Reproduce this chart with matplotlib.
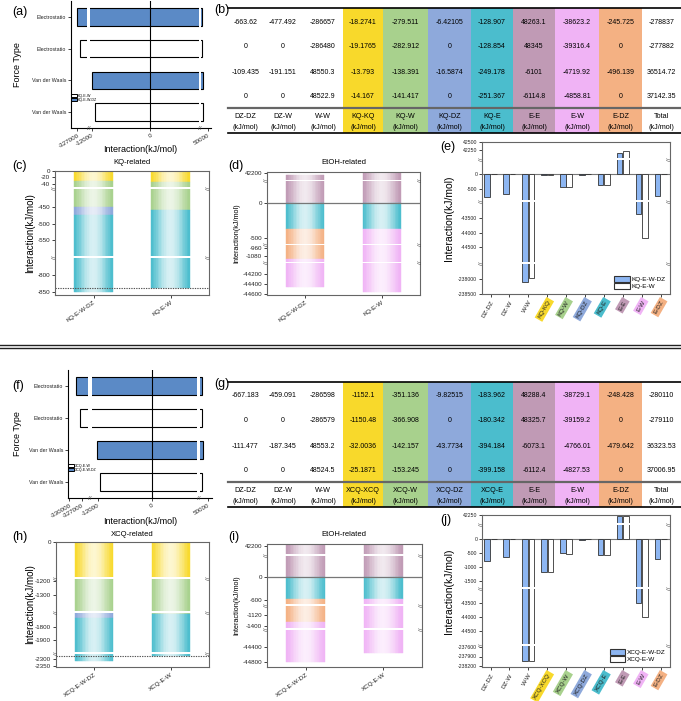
import numpy as np
import matplotlib
matplotlib.use('Agg')
import matplotlib.pyplot as plt
import matplotlib.colors as mcolors
from matplotlib.patches import Patch, Rectangle
from matplotlib.lines import Line2D
from matplotlib.ticker import FixedLocator, NullLocator

plt.rcParams['font.family'] = ['Liberation Sans', 'DejaVu Sans']

# ---------------- data (kJ/mol) ----------------
force_types = ['Electrostatio', 'Electrostatio', 'Van der Waals', 'Van der Waals']

pairs_kq = ['DZ-DZ', 'DZ-W', 'W-W', 'KQ-KQ', 'KQ-W', 'KQ-DZ', 'KQ-E', 'E-E', 'E-W', 'E-DZ']
kq_dz_elec = [-663.62, -477.492, -286657, -18.2741, -279.511, -6.42105, -128.907, 48263.1, -38623.2, -245.725]
kq_w_elec = [0, 0, -286480, -19.1765, -282.912, 0, -128.854, 48345, -39316.4, 0]
kq_dz_vdw = [-109.435, -191.151, 48550.3, -13.793, -138.391, -16.5874, -249.178, -6101, -4719.92, -496.139]
kq_w_vdw = [0, 0, 48522.9, -14.167, -141.417, 0, -251.367, -6114.8, -4858.81, 0]
kq_totals = [-278837, -277882, 36514.72, 37142.35]

pairs_xcq = ['DZ-DZ', 'DZ-W', 'W-W', 'XCQ-XCQ', 'XCQ-W', 'XCQ-DZ', 'XCQ-E', 'E-E', 'E-W', 'E-DZ']
xcq_dz_elec = [-667.183, -459.091, -286598, -1152.1, -351.136, -9.82515, -183.962, 48288.4, -38729.1, -248.428]
xcq_w_elec = [0, 0, -286579, -1150.48, -366.908, 0, -180.342, 48325.7, -39159.2, 0]
xcq_dz_vdw = [-111.477, -187.345, 48553.2, -32.0036, -142.157, -43.7734, -394.184, -6073.1, -4766.01, -479.642]
xcq_w_vdw = [0, 0, 48524.5, -25.1871, -153.245, 0, -399.158, -6112.4, -4827.53, 0]
xcq_totals = [-280110, -279110, 36323.53, 37006.95]

# colour of each pair column (first three uncoloured)
pair_colors = [None, None, None, '#F8D92B', '#A8D18D', '#8EA9DB', '#4BBDCD', '#C09AB5', '#F0B3F5', '#F4B183']

W, H = 681, 701
fig = plt.figure(figsize=(W / 100, H / 100), dpi=100)


def box(x0, y0, x1, y1):
    return fig.add_axes([x0 / W, 1 - y1 / H, (x1 - x0) / W, (y1 - y0) / H])


def ftext(x, y, s, **kw):
    fig.text(x / W, 1 - y / H, s, **kw)


def broken(ax, axis, data_pts, frac_pts, sides=(0, 1)):
    # piecewise linear scale, one (lo, hi) pair per segment
    d = np.array(data_pts, float)
    f = np.array(frac_pts, float)
    fwd = lambda v: np.interp(v, d, f)
    inv = lambda v: np.interp(v, f, d)
    if axis == 'y':
        ax.set_yscale('function', functions=(fwd, inv))
        ax.set_ylim(d[0], d[-1])
    else:
        ax.set_xscale('function', functions=(fwd, inv))
        ax.set_xlim(d[0], d[-1])
    for i in range(1, len(f) - 1, 2):
        g0, g1 = f[i], f[i + 1]
        gm = (g0 + g1) / 2
        if axis == 'y':
            ax.add_patch(Rectangle((0, g0), 1, g1 - g0, transform=ax.transAxes,
                                   fc='white', ec='none', zorder=4))
            for s in sides:
                ax.text(s, gm, '//', transform=ax.transAxes, rotation=90, ha='center',
                        va='center', fontsize=4.5, color='#444', zorder=7)
        else:
            ax.add_patch(Rectangle((g0, 0), g1 - g0, 1, transform=ax.transAxes,
                                   fc='white', ec='none', zorder=4))
            ax.text(gm, 0, '//', transform=ax.transAxes, ha='center', va='center',
                    fontsize=4.5, color='#444', zorder=7)


def style(ax, full=True, color='#666'):
    for name, sp in ax.spines.items():
        sp.set_color(color)
        sp.set_linewidth(0.8)
        sp.set_zorder(6)
        if not full and name in ('top', 'right'):
            sp.set_visible(False)
    ax.tick_params(direction='out', length=2, width=0.6, labelsize=4.5, pad=1.5, colors='#222')


def grad_bar(ax, x, bottom, height, color, width=0.5, n=24):
    base = np.array(mcolors.to_rgb(color))
    edges = np.linspace(x - width / 2, x + width / 2, n + 1)
    t = (np.arange(n) + 0.5) / n
    f = 0.78 * np.sin(np.pi * t) ** 1.4
    cols = base[None, :] * (1 - f[:, None]) + f[:, None]
    ax.bar(edges[:-1], height, width=np.diff(edges), bottom=bottom, align='edge',
           color=cols, edgecolor=cols, linewidth=0.3, zorder=2)


def force_panel(ax, rows, labels, xd, xf, xticks):
    neg = np.array([sum(v for v in r if v < 0) for r in rows])
    pos = np.array([sum(v for v in r if v > 0) for r in rows])
    cols = ['#5B8AC6', 'white', '#5B8AC6', 'white']
    broken(ax, 'x', xd, xf)
    ax.barh(np.arange(4), pos - neg, left=neg, height=0.55, color=cols,
            edgecolor='k', linewidth=0.8, zorder=2)
    ax.axvline(0, color='k', lw=0.8, zorder=5)
    ax.set_ylim(3.5, -0.5)
    ax.set_yticks(np.arange(4))
    ax.set_yticklabels(force_types, fontsize=3.8)
    ax.xaxis.set_major_locator(FixedLocator(xticks))
    ax.xaxis.set_minor_locator(NullLocator())
    ax.set_xticklabels([str(t) for t in xticks], rotation=30, ha='right',
                       rotation_mode='anchor', fontsize=4.5)
    style(ax, full=False, color='k')
    ax.tick_params(axis='y', labelsize=3.8)
    ax.tick_params(axis='x', labelsize=4.5)
    h = [Patch(fc='white', ec='k', lw=0.7), Patch(fc='#5B8AC6', ec='k', lw=0.7)]
    ax.legend(h, labels, loc='lower left', bbox_to_anchor=(0.0, 0.2), fontsize=2.6,
              frameon=False, handlelength=1.6, handleheight=0.9, labelspacing=0.05,
              handletextpad=0.3, borderpad=0.1, borderaxespad=0)


col_edges = [0, 35, 75, 115, 155, 200, 243, 285, 327, 371, 414, 453]


def table(ax, names, rows, totals):
    ax.set_xlim(0, 453)
    ax.set_ylim(125, 0)
    ax.axis('off')
    mids = [(a + b) / 2 for a, b in zip(col_edges[:-1], col_edges[1:])]
    for i, c in enumerate(pair_colors):
        if c:
            ax.axvspan(col_edges[i], col_edges[i + 1], color=c, lw=0)
    for r, (vals, tot) in enumerate(zip(rows, totals)):
        for m, v in zip(mids, list(vals) + [tot]):
            ax.text(m, 14 + 25 * r, str(v), ha='center', va='center', fontsize=5)
    for m, nm in zip(mids, names + ['Total']):
        ax.text(m, 109, nm, ha='center', va='center', fontsize=5.2)
        ax.text(m, 119.5, '(kJ/mol)', ha='center', va='center', fontsize=5.2)
    ax.axhline(0, color='k', lw=1.2, clip_on=False)
    ax.axhline(100, color='#666', lw=1.6, clip_on=False)
    ax.axhline(125, color='k', lw=1.2, clip_on=False)


def stack_panel(ax, dz, w, order, pos_idx, names, yd, yf, yticks, line=None):
    broken(ax, 'y', yd, yf)
    for x, comb in ((0, dz), (1, w)):
        if pos_idx is not None:
            grad_bar(ax, x, 0, comb[pos_idx], pair_colors[pos_idx])
        cum = 0.0
        for i in order:
            if comb[i] == 0:
                continue
            grad_bar(ax, x, cum, comb[i], pair_colors[i])
            cum += comb[i]
    if line is not None:
        ax.axhline(line, color='#555', ls=(0, (1.2, 1)), lw=0.8, zorder=5)
    ax.set_xlim(-0.5, 1.5)
    ax.yaxis.set_major_locator(FixedLocator(yticks))
    ax.yaxis.set_minor_locator(NullLocator())
    ax.set_yticklabels([str(t) for t in yticks])
    ax.set_xticks([0, 1])
    ax.set_xticklabels(names, rotation=35, ha='right', rotation_mode='anchor')
    style(ax)
    ax.tick_params(axis='x', labelsize=4.5)


def pair_panel(ax, dz, w, names, labels, yd, yf, yticks):
    broken(ax, 'y', yd, yf)
    x = np.arange(len(names))
    ax.bar(x - 0.17, dz, width=0.3, color='#8DB6F2', edgecolor='#333', lw=0.6, zorder=2)
    ax.bar(x + 0.17, w, width=0.3, color='white', edgecolor='#333', lw=0.6, zorder=2)
    ax.axhline(0, color='#777', lw=0.8, zorder=1)
    ax.set_xlim(-0.45, 9.5)
    ax.yaxis.set_major_locator(FixedLocator(yticks))
    ax.yaxis.set_minor_locator(NullLocator())
    ax.set_yticklabels([str(t) for t in yticks])
    ax.set_xticks(x)
    ax.set_xticklabels(names, rotation=60, ha='right', rotation_mode='anchor')
    style(ax)
    ax.tick_params(axis='y', labelsize=3.7)
    ax.tick_params(axis='x', labelsize=4.5, pad=2)
    for lab, c in zip(ax.get_xticklabels(), pair_colors):
        if c:
            lab.set_bbox(dict(fc=c, ec='none', boxstyle='square,pad=0.3'))
    h = [Patch(fc='#8DB6F2', ec='#333', lw=0.8), Patch(fc='white', ec='#333', lw=0.8)]
    ax.legend(h, labels, loc='lower right', bbox_to_anchor=(0.98, 0.03), fontsize=4.6,
              frameon=False, handlelength=2.4, handleheight=1.1, labelspacing=0.1,
              handletextpad=0.3, borderpad=0.1, borderaxespad=0)


def half(oy, tag, pairs, dz_e, w_e, dz_v, w_v, totals, cfg):
    dz = np.array(dz_e) + np.array(dz_v)
    w = np.array(w_e) + np.array(w_v)
    name = pairs[3].split('-')[0]
    sysname = [name + '-E-W-DZ', name + '-E-W']
    L = tag

    ax = box(*cfg['a_box'])
    force_panel(ax, [dz_e, w_e, dz_v, w_v], [sysname[1], sysname[0]],
                cfg['a_xd'], cfg['a_xf'], cfg['a_ticks'])
    ftext(18, cfg['a_box'][1] + 64, 'Force Type', rotation=90, ha='center', va='center', fontsize=6.5)
    ftext(140, cfg['a_box'][3] + cfg['xl_off'], 'Interaction(kJ/mol)', ha='center', va='center',
          fontsize=6.5)
    ftext(12, oy + 12, L[0], fontsize=9, va='center')

    ax = box(228, oy + 8, 681, oy + 133)
    table(ax, pairs, [dz_e, w_e, dz_v, w_v], totals)
    ftext(214, oy + 10, L[1], fontsize=9, va='center')

    ax = box(*cfg['c_box'])
    stack_panel(ax, dz, w, [3, 4, 5, 6], None, sysname, cfg['c_yd'], cfg['c_yf'],
                cfg['c_ticks'], line=w[3:7].sum())
    ftext(132, cfg['c_box'][1] - 8, name + '-related', ha='center', va='center', fontsize=5.5)
    ftext(30, (cfg['c_box'][1] + cfg['c_box'][3]) / 2, 'Interaction(kJ/mol)', rotation=90,
          ha='center', va='center', fontsize=7)
    ftext(12, cfg['c_box'][1] - 5, L[2], fontsize=9, va='center')

    ax = box(*cfg['d_box'])
    stack_panel(ax, dz, w, [6, 9, 8], 7, sysname, cfg['d_yd'], cfg['d_yf'], cfg['d_ticks'])
    ax.axhline(0, color='#777', lw=0.9, zorder=5)
    ftext(344, cfg['c_box'][1] - 8, 'EtOH-related', ha='center', va='center', fontsize=5.5)
    ftext(237, (cfg['d_box'][1] + cfg['d_box'][3]) / 2, 'Interaction(kJ/mol)', rotation=90,
          ha='center', va='center', fontsize=5.2)
    ftext(228, cfg['c_box'][1] - 5, L[3], fontsize=9, va='center')

    ax = box(*cfg['e_box'])
    pair_panel(ax, dz, w, pairs, sysname, cfg['e_yd'], cfg['e_yf'], cfg['e_ticks'])
    ftext(449, (cfg['e_box'][1] + cfg['e_box'][3]) / 2, 'Interaction(kJ/mol)', rotation=90,
          ha='center', va='center', fontsize=7.5)
    ftext(440, cfg['e_box'][1] + 5, L[4], fontsize=9, va='center')


def fr(pix, top, bottom):
    return [(bottom - p) / (bottom - top) for p in pix]


cfg_kq = dict(
    a_box=(71, 1, 211, 128),
    xl_off=22,
    a_xd=[-328900, -324200, -12400, 10000, 47900, 51000],
    a_xf=[(p - 71) / 140 for p in (71, 87, 90, 199, 201, 211)],
    a_ticks=[-327000, -12000, 0, 50000],
    c_box=(55, 171, 209, 295),
    c_yd=[-860, -750, -597, -395, -50, 0],
    c_yf=fr([295, 258, 256, 189, 187, 171], 171, 295),
    c_ticks=[0, -20, -40, -450, -500, -550, -800, -850],
    d_box=(267, 172, 420, 295),
    d_yd=[-44620, -43980, -1170, -915, -590, 320, 42000, 42240],
    d_yf=fr([295, 263, 262, 245, 244, 181, 180, 172], 172, 295),
    d_ticks=[42200, 0, -500, -960, -1080, -44200, -44400, -44600],
    e_box=(482, 142, 670, 294),
    e_yd=[-238500, -237500, -45000, -42950, -860, 460, 42000, 42500],
    e_yf=fr([294, 264, 262, 202, 200, 160, 158, 142], 142, 294),
    e_ticks=[42500, 42250, 0, -500, -43500, -44000, -44500, -238000, -238500],
)

cfg_xcq = dict(
    a_box=(68, 370, 212, 498),
    xl_off=24,
    a_xd=[-330300, -325500, -13300, 10000, 47900, 51000],
    a_xf=[(p - 68) / 144 for p in (68, 88, 92, 197, 200, 212)],
    a_ticks=[-330000, -327000, -12000, 0, 50000],
    c_box=(56, 542, 209, 667),
    c_yd=[-2355, -2260, -1990, -1690, -1410, -1185, -1160, 0],
    c_yf=fr([667, 654, 652, 613, 611, 579, 577, 542], 542, 667),
    c_ticks=[0, -1200, -1300, -1800, -1900, -2300, -2350],
    d_box=(267, 544, 422, 667),
    d_yd=[-44930, -43950, -1450, -890, -700, 540, 42000, 42250],
    d_yf=fr([667, 630, 628, 606, 604, 556, 554, 544], 544, 667),
    d_ticks=[42200, 0, -600, -1120, -1400, -44400, -44800],
    e_box=(482, 515, 670, 667),
    e_yd=[-238230, -237570, -44960, -43000, -1715, 500, 42000, 42260],
    e_yf=fr([667, 646, 644, 589, 587, 525, 523, 515], 515, 667),
    e_ticks=[42250, 0, -500, -1000, -1500, -43500, -44000, -44500, -237600, -237900, -238200],
)

half(0, ['(a)', '(b)', '(c)', '(d)', '(e)'], pairs_kq, kq_dz_elec, kq_w_elec,
     kq_dz_vdw, kq_w_vdw, kq_totals, cfg_kq)
half(374, ['(f)', '(g)', '(h)', '(i)', '(j)'], pairs_xcq, xcq_dz_elec, xcq_w_elec,
     xcq_dz_vdw, xcq_w_vdw, xcq_totals, cfg_xcq)

# double separator between the two halves
for y in (345, 348.5):
    fig.add_artist(Line2D([0, 1], [1 - y / H, 1 - y / H], transform=fig.transFigure,
                          color='#222', lw=1.0))

fig.savefig('out.png', dpi=100)
